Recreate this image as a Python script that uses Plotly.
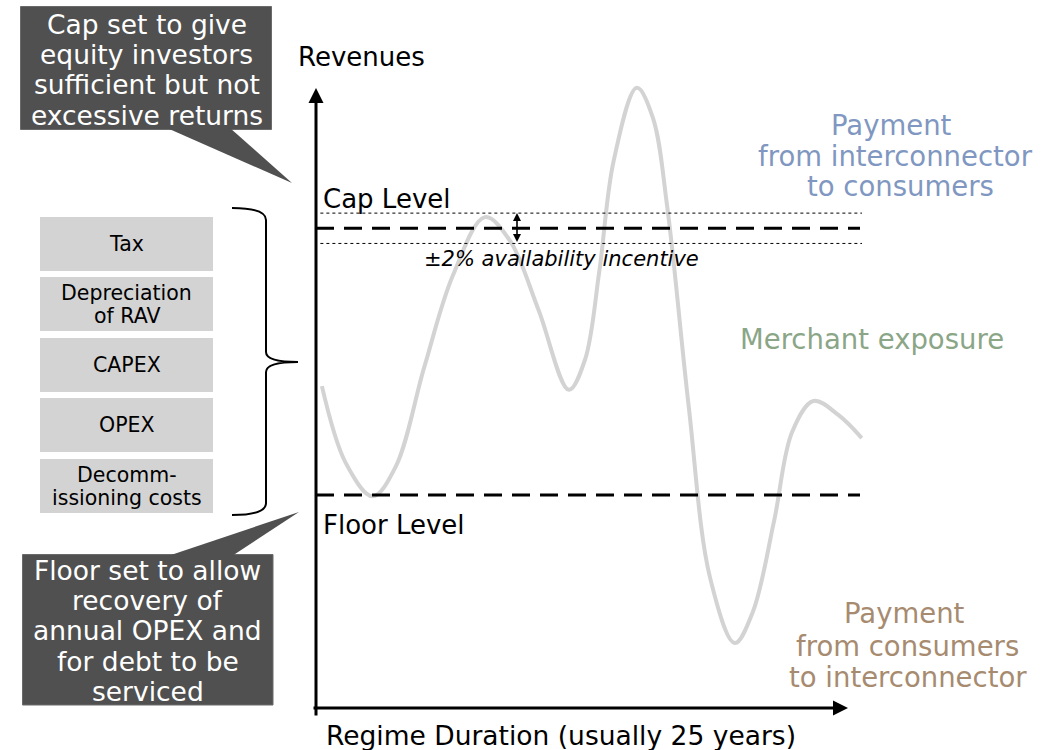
import plotly.graph_objects as go

# ---------------- data ----------------
years = [0.27, 1.36, 2.59, 3.65, 4.96, 6.27, 7.74, 8.88, 10.19, 11.58, 12.32, 12.97,
         13.63, 14.69, 15.43, 16.08, 17.06, 18.04, 19.18, 20.0, 20.98, 21.8, 22.78,
         23.93, 24.99]
revenue = [52.0, 39.6, 34.2, 39.0, 55.1, 69.9, 79.3, 75.5, 64.3, 51.4, 56.3, 70.5,
           88.4, 100.2, 95.3, 81.0, 48.9, 21.1, 10.5, 15.5, 30.3, 44.6, 49.6, 47.3, 43.6]
cap_level = 77.5
cap_band = 2.45
floor_level = 34.4
cost_items = ["Tax", "Depreciation<br>of RAV", "CAPEX", "OPEX", "Decomm-<br>issioning costs"]
cap_note = ["Cap set to give", "equity investors", "sufficient but not", "excessive returns"]
floor_note = ["Floor set to allow", "recovery of", "annual OPEX and", "for debt to be", "serviced"]
pay_out = ["Payment", "from interconnector", "to consumers"]
pay_in = ["Payment", "from consumers", "to interconnector"]

# ---------------- geometry helpers ----------------
W, H = 1063, 750
X0_PX, PX_PER_YEAR = 316, 21.84
Y0_PX, PX_PER_REV = 708, 6.19
FONT = "DejaVu Sans"


def px(x):
    return x / W


def py(y):
    return 1 - y / H


fig = go.Figure()
fig.add_trace(go.Scatter(x=years, y=revenue, mode="lines",
                         line=dict(color="#d3d3d3", width=4, shape="spline", smoothing=1.0),
                         hoverinfo="skip"))

shapes = []
annots = []

x_end_dash = (860 - X0_PX) / PX_PER_YEAR
x_end_dot = (862 - X0_PX) / PX_PER_YEAR
# cap / floor dashed
for lvl in (cap_level, floor_level):
    shapes.append(dict(type="line", xref="x", yref="y", x0=0, x1=x_end_dash, y0=lvl, y1=lvl,
                       line=dict(color="black", width=3, dash="18px,10px")))
# availability band dotted
for lvl in (cap_level + cap_band, cap_level - cap_band):
    shapes.append(dict(type="line", xref="x", yref="y", x0=0.2, x1=x_end_dot, y0=lvl, y1=lvl,
                       line=dict(color="black", width=1, dash="dot")))

# axes (arrows)
annots.append(dict(x=0, y=(Y0_PX - 88) / PX_PER_REV, ax=0, ay=(Y0_PX - 717) / PX_PER_REV,
                   xref="x", yref="y", axref="x", ayref="y", text="", showarrow=True,
                   arrowhead=2, arrowsize=1, arrowwidth=3, arrowcolor="black"))
annots.append(dict(x=(848 - X0_PX) / PX_PER_YEAR, y=0, ax=(312 - X0_PX) / PX_PER_YEAR, ay=0,
                   xref="x", yref="y", axref="x", ayref="y", text="", showarrow=True,
                   arrowhead=2, arrowsize=1, arrowwidth=3, arrowcolor="black"))
# +/- band arrow
xb = (517 - X0_PX) / PX_PER_YEAR
annots.append(dict(x=xb, y=cap_level + cap_band, ax=xb, ay=cap_level - cap_band,
                   xref="x", yref="y", axref="x", ayref="y", text="", showarrow=True,
                   arrowhead=2, startarrowhead=2, arrowside="end+start", arrowsize=1,
                   startarrowsize=1, arrowwidth=1.6, arrowcolor="black"))


def label(text, x, y, size, color="black", xanchor="center", italic=False):
    t = f"<i>{text}</i>" if italic else text
    annots.append(dict(x=px(x), y=py(y), xref="paper", yref="paper", text=t, showarrow=False,
                       xanchor=xanchor, yanchor="middle",
                       font=dict(family=FONT, size=size, color=color)))


label("Revenues", 361.5, 57, 26)
label("Cap Level", 321, 199, 26, xanchor="left")
label("Floor Level", 321, 525, 26, xanchor="left")
label("±2% availability incentive", 561.5, 259, 21, italic=True)
label("Regime Duration (usually 25 years)", 560.5, 735, 26.5)
label("Merchant exposure", 871.5, 339, 27.5, color="#8aa687")

blue = "#8097c1"
for t, x, y in zip(pay_out, [891, 895.5, 900], [125, 156, 186]):
    label(t, x, y, 27.5, color=blue)
brown = "#a78b70"
for t, x, y in zip(pay_in, [904, 907, 907.5], [613, 646, 676.5]):
    label(t, x, y, 27.5, color=brown)

# cost boxes
box_tops = [217, 277, 338, 398, 459]
box_h = 54
for item, top in zip(cost_items, box_tops):
    shapes.append(dict(type="rect", xref="paper", yref="paper", x0=px(40), x1=px(213),
                       y0=py(top), y1=py(top + box_h), fillcolor="#d3d3d3", line=dict(width=0),
                       layer="below"))
    lines = item.split("<br>")
    c = top + box_h / 2
    offs = [0] if len(lines) == 1 else [-11.5, 11.5]
    for ln, o in zip(lines, offs):
        label(ln, 126.5, c + o, 20.5)

# brace
def P(x, y):
    return f"{px(x):.5f},{py(y):.5f}"

brace = (f"M {P(232, 208)} Q {P(266, 208)} {P(266, 220)} L {P(266, 352)} "
         f"Q {P(266, 362)} {P(298, 362)} Q {P(266, 362)} {P(266, 372)} "
         f"L {P(266, 503)} Q {P(266, 515)} {P(232, 515)}")
shapes.append(dict(type="path", xref="paper", yref="paper", path=brace,
                   line=dict(color="black", width=2)))

# callouts
dark = "#505050"
shapes.append(dict(type="rect", xref="paper", yref="paper", x0=px(20.5), x1=px(271.5),
                   y0=py(6.5), y1=py(129.5), fillcolor=dark, line=dict(color="#6a6a6a", width=1)))
shapes.append(dict(type="path", xref="paper", yref="paper",
                   path=f"M {P(167, 128)} L {P(292, 183)} L {P(230, 128)} Z",
                   fillcolor=dark, line=dict(width=0)))
for t, y in zip(cap_note, [24, 54.5, 85, 115.5]):
    label(t, 146.5, y, 26.5, color="white")

shapes.append(dict(type="rect", xref="paper", yref="paper", x0=px(22.5), x1=px(273),
                   y0=py(554.5), y1=py(705), fillcolor=dark, line=dict(color="#6a6a6a", width=1)))
shapes.append(dict(type="path", xref="paper", yref="paper",
                   path=f"M {P(168, 556)} L {P(299, 512)} L {P(232, 556)} Z",
                   fillcolor=dark, line=dict(width=0)))
for t, y in zip(floor_note, [570, 600, 630, 661, 691]):
    label(t, 147.5, y, 26.5, color="white")

fig.update_layout(
    width=W, height=H, autosize=False,
    margin=dict(l=0, r=0, t=0, b=0, pad=0),
    paper_bgcolor="white", plot_bgcolor="white",
    showlegend=False,
    xaxis=dict(visible=False, domain=[0, 1], fixedrange=True,
               range=[(0 - X0_PX) / PX_PER_YEAR, (W - X0_PX) / PX_PER_YEAR]),
    yaxis=dict(visible=False, domain=[0, 1], fixedrange=True,
               range=[(Y0_PX - H) / PX_PER_REV, Y0_PX / PX_PER_REV]),
    shapes=shapes,
    annotations=annots,
)

fig.write_html("out.html", config={"displayModeBar": False},
               post_script="document.body.style.margin='0px';")
